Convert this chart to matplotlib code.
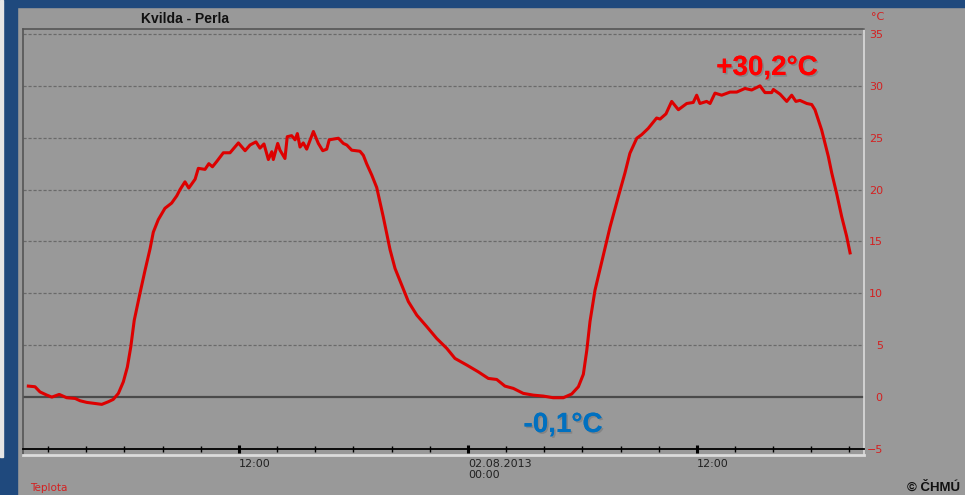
import matplotlib
matplotlib.use("Agg")
import matplotlib.pyplot as plt
import matplotlib.patheffects as pe
from matplotlib.patches import Rectangle

# hours since 01.08.2013 00:00
hours = [0.96, 1.31, 1.57, 1.92, 2.19, 2.58, 2.97, 3.41, 3.67, 4.02, 4.45, 4.81,
         5.15, 5.41, 5.68, 5.94, 6.15, 6.33, 6.51, 6.81, 7.08, 7.34, 7.51, 7.77,
         8.12, 8.47, 8.74, 8.91, 9.17, 9.37, 9.70, 9.87, 10.22, 10.42, 10.61, 10.83,
         11.18, 11.53, 11.97, 12.32, 12.58, 12.89, 13.10, 13.31, 13.54, 13.72, 13.80,
         14.03, 14.15, 14.41, 14.53, 14.76, 14.94, 15.06, 15.20, 15.37, 15.55, 15.90,
         16.16, 16.39, 16.60, 16.73, 17.21, 17.47, 17.65, 17.91, 18.34, 18.52, 18.69,
         18.96, 19.22, 19.56, 19.92, 20.18, 20.53, 20.88, 21.32, 21.84, 22.36, 22.89,
         23.32, 23.94, 24.54, 25.07, 25.51, 25.94, 26.38, 26.90, 27.43, 27.95, 28.47,
         29.00, 29.44, 29.79, 30.05, 30.23, 30.40, 30.66, 31.01, 31.45, 31.88, 32.23,
         32.49, 32.85, 33.11, 33.45, 33.89, 34.07, 34.38, 34.68, 35.03, 35.47, 35.81,
         35.99, 36.16, 36.51, 36.69, 36.95, 37.30, 37.74, 38.09, 38.52, 38.87, 39.31,
         39.57, 39.92, 40.01, 40.36, 40.71, 40.97, 41.19, 41.40, 41.76, 42.02, 42.19,
         42.54, 42.89, 43.07, 43.33, 43.59, 43.85, 44.03]
temps = [1.06, 1.0, 0.5, 0.2, 0.0, 0.26, -0.06, -0.13, -0.35, -0.51, -0.61, -0.7,
         -0.45, -0.22, 0.36, 1.48, 2.9, 4.85, 7.4, 10.0, 12.25, 14.3, 15.9, 17.1,
         18.2, 18.7, 19.4, 20.0, 20.75, 20.15, 21.0, 22.05, 21.95, 22.5, 22.2, 22.7,
         23.55, 23.55, 24.5, 23.75, 24.3, 24.6, 24.0, 24.4, 22.9, 23.65, 22.9,
         24.45, 23.8, 23.0, 25.1, 25.2, 24.8, 25.4, 24.1, 24.5, 23.9, 25.6,
         24.45, 23.75, 23.9, 24.8, 24.95, 24.45, 24.3, 23.8, 23.7, 23.3, 22.5,
         21.4, 20.2, 17.4, 14.2, 12.4, 10.8, 9.2, 7.9, 6.8, 5.66, 4.7,
         3.73, 3.09, 2.44, 1.8, 1.7, 1.06, 0.84, 0.36, 0.19, 0.1, -0.06,
         -0.06, 0.3, 1.0, 2.2, 4.5, 7.3, 10.3, 13.0, 16.4, 19.3, 21.6,
         23.5, 24.95, 25.3, 25.9, 26.9, 26.8, 27.3, 28.5, 27.7, 28.3, 28.4,
         29.1, 28.3, 28.5, 28.3, 29.3, 29.1, 29.4, 29.4, 29.75, 29.6, 30.0,
         29.35, 29.35, 29.65, 29.2, 28.5, 29.1, 28.5, 28.6, 28.3, 28.2, 27.7,
         25.75, 23.2, 21.6, 19.6, 17.4, 15.5, 13.9]

major_hours = [12, 24, 36]
major_labels = ["12:00", "02.08.2013\n00:00", "12:00"]
minor_hours = [h for h in range(2, 46, 2) if h not in major_hours]
y_ticks = list(range(-5, 40, 5))

panel = "#999999"
red_txt = "#d42020"

fig = plt.figure(figsize=(9.65, 4.95), dpi=100, facecolor=panel)
# slide frame
fig.patches.append(Rectangle((0, 1 - 7 / 495), 1, 7 / 495, transform=fig.transFigure,
                             color="#1f497d", zorder=0))
fig.patches.append(Rectangle((0, 0), 17 / 965, 1, transform=fig.transFigure,
                             color="#1f497d", zorder=0))
fig.patches.append(Rectangle((0, 1 - 457 / 495), 3 / 965, 457 / 495,
                             transform=fig.transFigure, color="#e6e6e6", zorder=1))

ax = fig.add_axes([23 / 965, 1 - 455 / 495, 841 / 965, 426 / 495])
ax.set_facecolor(panel)
ax.set_xlim(0.68, 44.76)
ax.set_ylim(-5.58, 35.48)

for v in y_ticks:
    if v in (-5, 0):
        continue
    ax.axhline(v, color="#6a6a6a", lw=0.9, ls=(0, (2.5, 1.5)), zorder=1)
ax.axhline(0, color="#4a4a4a", lw=1.6, zorder=2)

ax.plot(hours, temps, color="#dd0000", lw=2.2, zorder=3, solid_joinstyle="round")

# frame
for s in ("left", "top"):
    ax.spines[s].set_color("#555555")
    ax.spines[s].set_linewidth(1.2)
ax.spines["right"].set_color("#dcdcdc")
ax.spines["right"].set_linewidth(1.2)
ax.spines["bottom"].set_position(("data", -5))
ax.spines["bottom"].set_color("black")
ax.spines["bottom"].set_linewidth(1.3)
ax.plot([0, 1], [0, 0], transform=ax.transAxes, color="#dcdcdc", lw=2,
        clip_on=False, zorder=5)

ax.set_xticks(major_hours)
ax.set_xticklabels(major_labels)
ax.set_xticks(minor_hours, minor=True)
ax.tick_params(axis="x", which="major", direction="inout", length=6, width=2.2,
               color="black", labelsize=8, labelcolor="#222222", pad=4)
ax.tick_params(axis="x", which="minor", direction="inout", length=5, width=1,
               color="black")
for lab in ax.get_xticklabels():
    lab.set_horizontalalignment("left")
    lab.set_multialignment("left")

ax.yaxis.tick_right()
ax.set_yticks(y_ticks)
ax.tick_params(axis="y", length=0, pad=13.5, labelsize=8, labelcolor=red_txt)
for lab in ax.get_yticklabels():
    lab.set_horizontalalignment("right")

fig.text(878 / 965, 1 - 17 / 495, "°C", color=red_txt, fontsize=8,
         ha="center", va="center")
fig.text(185 / 965, 1 - 19 / 495, "Kvilda - Perla", fontsize=10, fontweight="bold",
         family="Liberation Sans", color="#111111", ha="center", va="center")

shadow = [pe.withSimplePatchShadow(offset=(1.2, -1.2), shadow_rgbFace="#555555",
                                   alpha=0.3), pe.Normal()]
fig.text(767 / 965, 1 - 68 / 495, "+30,2°C", fontsize=20, fontweight="bold",
         family="Liberation Sans", color="#ff0000", ha="center", va="center",
         path_effects=shadow)
fig.text(563 / 965, 1 - 425 / 495, "-0,1°C", fontsize=20, fontweight="bold",
         family="Liberation Sans", color="#0070c0", ha="center", va="center",
         path_effects=shadow)

fig.text(30 / 965, 1 - 488 / 495, "Teplota", fontsize=7.5, color=red_txt,
         ha="left", va="center")
fig.text(907 / 965, 1 - 488 / 495, "© ČHMÚ", fontsize=9.5, fontweight="bold",
         family="Liberation Sans", color="#111111", ha="left", va="center")

fig.savefig("out.png", dpi=100, facecolor=panel)
